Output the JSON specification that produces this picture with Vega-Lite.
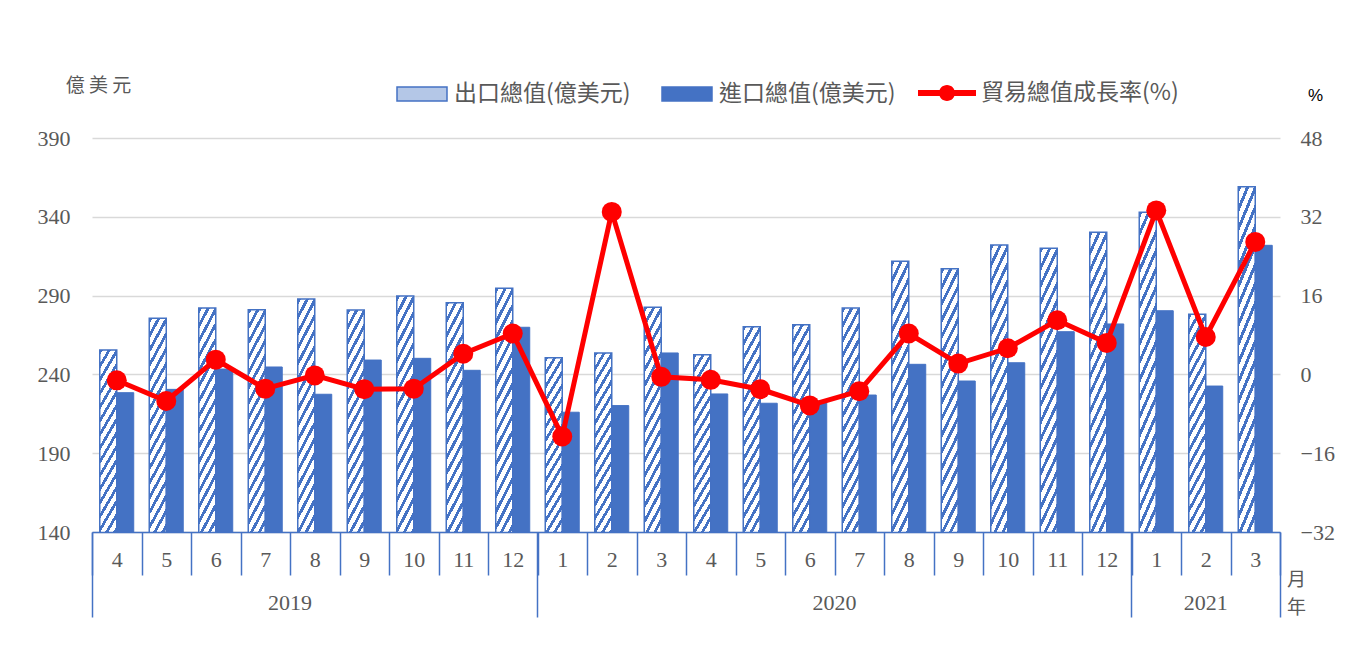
{
  "$schema": "https://vega.github.io/schema/vega-lite/v6.json",
  "width": 1188,
  "height": 394,
  "autosize": {"type": "none"},
  "padding": {"left": 92, "top": 138, "right": 88, "bottom": 136},
  "background": "#ffffff",
  "config": {"view": {"stroke": null}, "font": "Liberation Serif"},
  "datasets": {
    "bars": [
      {"m": "2019-4", "series": "出口總值(億美元)", "value": 255.5},
      {"m": "2019-4", "series": "進口總值(億美元)", "value": 228.4},
      {"m": "2019-5", "series": "出口總值(億美元)", "value": 275.6},
      {"m": "2019-5", "series": "進口總值(億美元)", "value": 230.5},
      {"m": "2019-6", "series": "出口總值(億美元)", "value": 282.1},
      {"m": "2019-6", "series": "進口總值(億美元)", "value": 243.4},
      {"m": "2019-7", "series": "出口總值(億美元)", "value": 281.0},
      {"m": "2019-7", "series": "進口總值(億美元)", "value": 244.7},
      {"m": "2019-8", "series": "出口總值(億美元)", "value": 287.8},
      {"m": "2019-8", "series": "進口總值(億美元)", "value": 227.4},
      {"m": "2019-9", "series": "出口總值(億美元)", "value": 280.9},
      {"m": "2019-9", "series": "進口總值(億美元)", "value": 249.1},
      {"m": "2019-10", "series": "出口總值(億美元)", "value": 289.7},
      {"m": "2019-10", "series": "進口總值(億美元)", "value": 250.2},
      {"m": "2019-11", "series": "出口總值(億美元)", "value": 285.5},
      {"m": "2019-11", "series": "進口總值(億美元)", "value": 242.6},
      {"m": "2019-12", "series": "出口總值(億美元)", "value": 294.6},
      {"m": "2019-12", "series": "進口總值(億美元)", "value": 269.9},
      {"m": "2020-1", "series": "出口總值(億美元)", "value": 250.6},
      {"m": "2020-1", "series": "進口總值(億美元)", "value": 216.0},
      {"m": "2020-2", "series": "出口總值(億美元)", "value": 253.6},
      {"m": "2020-2", "series": "進口總值(億美元)", "value": 220.2},
      {"m": "2020-3", "series": "出口總值(億美元)", "value": 282.6},
      {"m": "2020-3", "series": "進口總值(億美元)", "value": 253.6},
      {"m": "2020-4", "series": "出口總值(億美元)", "value": 252.5},
      {"m": "2020-4", "series": "進口總值(億美元)", "value": 227.6},
      {"m": "2020-5", "series": "出口總值(億美元)", "value": 270.3},
      {"m": "2020-5", "series": "進口總值(億美元)", "value": 221.7},
      {"m": "2020-6", "series": "出口總值(億美元)", "value": 271.5},
      {"m": "2020-6", "series": "進口總值(億美元)", "value": 223.0},
      {"m": "2020-7", "series": "出口總值(億美元)", "value": 282.1},
      {"m": "2020-7", "series": "進口總值(億美元)", "value": 226.9},
      {"m": "2020-8", "series": "出口總值(億美元)", "value": 311.8},
      {"m": "2020-8", "series": "進口總值(億美元)", "value": 246.4},
      {"m": "2020-9", "series": "出口總值(億美元)", "value": 307.1},
      {"m": "2020-9", "series": "進口總值(億美元)", "value": 235.8},
      {"m": "2020-10", "series": "出口總值(億美元)", "value": 322.1},
      {"m": "2020-10", "series": "進口總值(億美元)", "value": 247.4},
      {"m": "2020-11", "series": "出口總值(億美元)", "value": 320.0},
      {"m": "2020-11", "series": "進口總值(億美元)", "value": 267.1},
      {"m": "2020-12", "series": "出口總值(億美元)", "value": 330.2},
      {"m": "2020-12", "series": "進口總值(億美元)", "value": 272.0},
      {"m": "2021-1", "series": "出口總值(億美元)", "value": 342.9},
      {"m": "2021-1", "series": "進口總值(億美元)", "value": 280.4},
      {"m": "2021-2", "series": "出口總值(億美元)", "value": 278.1},
      {"m": "2021-2", "series": "進口總值(億美元)", "value": 232.6},
      {"m": "2021-3", "series": "出口總值(億美元)", "value": 359.1},
      {"m": "2021-3", "series": "進口總值(億美元)", "value": 321.9}
    ],
    "growth": [
      {"m": "2019-4", "series": "貿易總值成長率(%)", "g": -1.2},
      {"m": "2019-5", "series": "貿易總值成長率(%)", "g": -5.4},
      {"m": "2019-6", "series": "貿易總值成長率(%)", "g": 3.0},
      {"m": "2019-7", "series": "貿易總值成長率(%)", "g": -2.9},
      {"m": "2019-8", "series": "貿易總值成長率(%)", "g": -0.2},
      {"m": "2019-9", "series": "貿易總值成長率(%)", "g": -3.0},
      {"m": "2019-10", "series": "貿易總值成長率(%)", "g": -2.9},
      {"m": "2019-11", "series": "貿易總值成長率(%)", "g": 4.2},
      {"m": "2019-12", "series": "貿易總值成長率(%)", "g": 8.3},
      {"m": "2020-1", "series": "貿易總值成長率(%)", "g": -12.6},
      {"m": "2020-2", "series": "貿易總值成長率(%)", "g": 33.0},
      {"m": "2020-3", "series": "貿易總值成長率(%)", "g": -0.5},
      {"m": "2020-4", "series": "貿易總值成長率(%)", "g": -1.1},
      {"m": "2020-5", "series": "貿易總值成長率(%)", "g": -3.0},
      {"m": "2020-6", "series": "貿易總值成長率(%)", "g": -6.3},
      {"m": "2020-7", "series": "貿易總值成長率(%)", "g": -3.4},
      {"m": "2020-8", "series": "貿易總值成長率(%)", "g": 8.3},
      {"m": "2020-9", "series": "貿易總值成長率(%)", "g": 2.2},
      {"m": "2020-10", "series": "貿易總值成長率(%)", "g": 5.3},
      {"m": "2020-11", "series": "貿易總值成長率(%)", "g": 11.0},
      {"m": "2020-12", "series": "貿易總值成長率(%)", "g": 6.4},
      {"m": "2021-1", "series": "貿易總值成長率(%)", "g": 33.3},
      {"m": "2021-2", "series": "貿易總值成長率(%)", "g": 7.6},
      {"m": "2021-3", "series": "貿易總值成長率(%)", "g": 26.9}
    ]
  },
  "layer": [
    {
      "data": {"name": "bars"},
      "transform": [{"filter": "datum.series === '出口總值(億美元)'"}],
      "mark": {"type": "bar", "stroke": "#4472C4", "strokeWidth": 1.5, "clip": true,
        "fill": {"gradient": "linear", "x1": 0, "y1": 0, "x2": 0.078, "y2": 1.08, "stops": [
          {"offset": 0, "color": "#4472C4"}, {"offset": 0.0125, "color": "#4472C4"}, {"offset": 0.0125, "color": "#fff"}, {"offset": 0.03125, "color": "#fff"},
          {"offset": 0.03125, "color": "#4472C4"}, {"offset": 0.04375, "color": "#4472C4"}, {"offset": 0.04375, "color": "#fff"}, {"offset": 0.0625, "color": "#fff"},
          {"offset": 0.0625, "color": "#4472C4"}, {"offset": 0.075, "color": "#4472C4"}, {"offset": 0.075, "color": "#fff"}, {"offset": 0.09375, "color": "#fff"},
          {"offset": 0.09375, "color": "#4472C4"}, {"offset": 0.10625, "color": "#4472C4"}, {"offset": 0.10625, "color": "#fff"}, {"offset": 0.125, "color": "#fff"},
          {"offset": 0.125, "color": "#4472C4"}, {"offset": 0.1375, "color": "#4472C4"}, {"offset": 0.1375, "color": "#fff"}, {"offset": 0.15625, "color": "#fff"},
          {"offset": 0.15625, "color": "#4472C4"}, {"offset": 0.16875, "color": "#4472C4"}, {"offset": 0.16875, "color": "#fff"}, {"offset": 0.1875, "color": "#fff"},
          {"offset": 0.1875, "color": "#4472C4"}, {"offset": 0.2, "color": "#4472C4"}, {"offset": 0.2, "color": "#fff"}, {"offset": 0.21875, "color": "#fff"},
          {"offset": 0.21875, "color": "#4472C4"}, {"offset": 0.23125, "color": "#4472C4"}, {"offset": 0.23125, "color": "#fff"}, {"offset": 0.25, "color": "#fff"},
          {"offset": 0.25, "color": "#4472C4"}, {"offset": 0.2625, "color": "#4472C4"}, {"offset": 0.2625, "color": "#fff"}, {"offset": 0.28125, "color": "#fff"},
          {"offset": 0.28125, "color": "#4472C4"}, {"offset": 0.29375, "color": "#4472C4"}, {"offset": 0.29375, "color": "#fff"}, {"offset": 0.3125, "color": "#fff"},
          {"offset": 0.3125, "color": "#4472C4"}, {"offset": 0.325, "color": "#4472C4"}, {"offset": 0.325, "color": "#fff"}, {"offset": 0.34375, "color": "#fff"},
          {"offset": 0.34375, "color": "#4472C4"}, {"offset": 0.35625, "color": "#4472C4"}, {"offset": 0.35625, "color": "#fff"}, {"offset": 0.375, "color": "#fff"},
          {"offset": 0.375, "color": "#4472C4"}, {"offset": 0.3875, "color": "#4472C4"}, {"offset": 0.3875, "color": "#fff"}, {"offset": 0.40625, "color": "#fff"},
          {"offset": 0.40625, "color": "#4472C4"}, {"offset": 0.41875, "color": "#4472C4"}, {"offset": 0.41875, "color": "#fff"}, {"offset": 0.4375, "color": "#fff"},
          {"offset": 0.4375, "color": "#4472C4"}, {"offset": 0.45, "color": "#4472C4"}, {"offset": 0.45, "color": "#fff"}, {"offset": 0.46875, "color": "#fff"},
          {"offset": 0.46875, "color": "#4472C4"}, {"offset": 0.48125, "color": "#4472C4"}, {"offset": 0.48125, "color": "#fff"}, {"offset": 0.5, "color": "#fff"},
          {"offset": 0.5, "color": "#4472C4"}, {"offset": 0.5125, "color": "#4472C4"}, {"offset": 0.5125, "color": "#fff"}, {"offset": 0.53125, "color": "#fff"},
          {"offset": 0.53125, "color": "#4472C4"}, {"offset": 0.54375, "color": "#4472C4"}, {"offset": 0.54375, "color": "#fff"}, {"offset": 0.5625, "color": "#fff"},
          {"offset": 0.5625, "color": "#4472C4"}, {"offset": 0.575, "color": "#4472C4"}, {"offset": 0.575, "color": "#fff"}, {"offset": 0.59375, "color": "#fff"},
          {"offset": 0.59375, "color": "#4472C4"}, {"offset": 0.60625, "color": "#4472C4"}, {"offset": 0.60625, "color": "#fff"}, {"offset": 0.625, "color": "#fff"},
          {"offset": 0.625, "color": "#4472C4"}, {"offset": 0.6375, "color": "#4472C4"}, {"offset": 0.6375, "color": "#fff"}, {"offset": 0.65625, "color": "#fff"},
          {"offset": 0.65625, "color": "#4472C4"}, {"offset": 0.66875, "color": "#4472C4"}, {"offset": 0.66875, "color": "#fff"}, {"offset": 0.6875, "color": "#fff"},
          {"offset": 0.6875, "color": "#4472C4"}, {"offset": 0.7, "color": "#4472C4"}, {"offset": 0.7, "color": "#fff"}, {"offset": 0.71875, "color": "#fff"},
          {"offset": 0.71875, "color": "#4472C4"}, {"offset": 0.73125, "color": "#4472C4"}, {"offset": 0.73125, "color": "#fff"}, {"offset": 0.75, "color": "#fff"},
          {"offset": 0.75, "color": "#4472C4"}, {"offset": 0.7625, "color": "#4472C4"}, {"offset": 0.7625, "color": "#fff"}, {"offset": 0.78125, "color": "#fff"},
          {"offset": 0.78125, "color": "#4472C4"}, {"offset": 0.79375, "color": "#4472C4"}, {"offset": 0.79375, "color": "#fff"}, {"offset": 0.8125, "color": "#fff"},
          {"offset": 0.8125, "color": "#4472C4"}, {"offset": 0.825, "color": "#4472C4"}, {"offset": 0.825, "color": "#fff"}, {"offset": 0.84375, "color": "#fff"},
          {"offset": 0.84375, "color": "#4472C4"}, {"offset": 0.85625, "color": "#4472C4"}, {"offset": 0.85625, "color": "#fff"}, {"offset": 0.875, "color": "#fff"},
          {"offset": 0.875, "color": "#4472C4"}, {"offset": 0.8875, "color": "#4472C4"}, {"offset": 0.8875, "color": "#fff"}, {"offset": 0.90625, "color": "#fff"},
          {"offset": 0.90625, "color": "#4472C4"}, {"offset": 0.91875, "color": "#4472C4"}, {"offset": 0.91875, "color": "#fff"}, {"offset": 0.9375, "color": "#fff"},
          {"offset": 0.9375, "color": "#4472C4"}, {"offset": 0.95, "color": "#4472C4"}, {"offset": 0.95, "color": "#fff"}, {"offset": 0.96875, "color": "#fff"},
          {"offset": 0.96875, "color": "#4472C4"}, {"offset": 0.98125, "color": "#4472C4"}, {"offset": 0.98125, "color": "#fff"}, {"offset": 1, "color": "#fff"}
        ]}
      },
      "encoding": {
        "x": {
          "field": "m", "type": "ordinal",
          "scale": {"type": "band", "paddingInner": 0, "paddingOuter": 0,
            "domain": ["2019-4","2019-5","2019-6","2019-7","2019-8","2019-9","2019-10","2019-11","2019-12","2020-1","2020-2","2020-3","2020-4","2020-5","2020-6","2020-7","2020-8","2020-9","2020-10","2020-11","2020-12","2021-1","2021-2","2021-3"]},
          "axis": {
            "orient": "bottom", "title": null, "grid": false, "zindex": 1,
            "ticks": true, "tickBand": "extent", "tickColor": "#4472C4", "tickWidth": 1.5, "tickSize": 43,
            "domain": true, "domainColor": "#4472C4", "domainWidth": 1.5,
            "labelExpr": "split(datum.value, '-')[1]", "labelAngle": 0, "labelPadding": -26,
            "labelFont": "Liberation Serif", "labelFontSize": 22, "labelColor": "#595959"
          }
        },
        "xOffset": {
          "field": "series", "type": "nominal",
          "scale": {"domain": ["出口總值(億美元)", "進口總值(億美元)"], "paddingInner": 0, "paddingOuter": 0.456}
        },
        "y": {
          "field": "value", "type": "quantitative",
          "scale": {"domain": [140, 390], "nice": false, "zero": false},
          "axis": {
            "orient": "left", "values": [140, 190, 240, 290, 340, 390],
            "grid": true, "gridColor": "#D9D9D9", "gridWidth": 1.5,
            "domain": false, "ticks": false, "labelPadding": 22,
            "labelFont": "Liberation Serif", "labelFontSize": 22, "labelColor": "#595959",
            "title": "億 美 元", "titleAngle": 0, "titleX": 6, "titleY": -53,
            "titleAlign": "center", "titleBaseline": "middle",
            "titleFont": "Noto Sans CJK TC", "titleFontSize": 19, "titleFontWeight": "normal", "titleColor": "#595959"
          }
        }
      }
    },
    {
      "data": {"name": "bars"},
      "transform": [{"filter": "datum.series === '進口總值(億美元)'"}],
      "mark": {"type": "bar", "stroke": "#4472C4", "strokeWidth": 1, "clip": true},
      "encoding": {
        "x": {
          "field": "m", "type": "ordinal", "scale": {"type": "band"},
          "axis": {
            "orient": "bottom", "title": null, "grid": false, "zindex": 1,
            "values": ["2019-4", "2020-1", "2021-1"], "bandPosition": 0,
            "ticks": true, "tickColor": "#4472C4", "tickWidth": 1.5, "tickSize": 85,
            "domain": false, "labels": false
          }
        },
        "xOffset": {
          "field": "series", "type": "nominal",
          "scale": {"domain": ["出口總值(億美元)", "進口總值(億美元)"], "paddingInner": 0, "paddingOuter": 0.456}
        },
        "y": {
          "field": "value", "type": "quantitative",
          "scale": {"domain": [140, 390], "nice": false, "zero": false},
          "axis": null
        },
        "fill": {
          "field": "series", "type": "nominal",
          "scale": {"domain": ["出口總值(億美元)", "進口總值(億美元)"], "range": ["#B4C7E7", "#4472C4"]},
          "legend": {
            "orient": "none", "legendX": 304, "legendY": -70, "direction": "horizontal",
            "title": null, "padding": 0, "symbolType": "M-1,-0.28H1V0.28H-1Z", "symbolSize": 2500,
            "symbolStrokeColor": "#4472C4", "symbolStrokeWidth": 1.5,
            "labelOffset": 6, "columnPadding": 28,
            "labelFont": "Noto Sans CJK TC", "labelFontSize": 23, "labelColor": "#595959", "labelLimit": 400
          }
        }
      }
    },
    {
      "data": {"name": "growth"},
      "mark": {"type": "line", "color": "#FF0000", "strokeWidth": 5},
      "encoding": {
        "x": {
          "field": "m", "type": "ordinal", "scale": {"type": "band"},
          "axis": {
            "orient": "bottom", "values": ["2019-7", "2020-6"],
            "domain": false, "ticks": false, "grid": false,
            "labelExpr": "split(datum.value, '-')[0]", "labelAngle": 0, "labelPadding": 60, "labelOffset": 24.75,
            "labelFont": "Liberation Serif", "labelFontSize": 22, "labelColor": "#595959",
            "title": ["月", "年"], "titleX": 1204, "titleY": 38, "titleAngle": 0,
            "titleAlign": "center", "titleBaseline": "top",
            "titleFont": "Noto Sans CJK TC", "titleFontSize": 19, "titleLineHeight": 28,
            "titleColor": "#595959", "titleFontWeight": "normal"
          }
        },
        "y": {
          "field": "g", "type": "quantitative",
          "scale": {"domain": [-32, 48], "nice": false, "zero": false},
          "axis": {
            "orient": "right", "values": [-32, -16, 0, 16, 32, 48],
            "grid": false, "domain": false, "ticks": false, "labelPadding": 20,
            "labelFont": "Liberation Serif", "labelFontSize": 22, "labelColor": "#595959",
            "title": "%", "titleAngle": 0, "titleX": 35, "titleY": -43,
            "titleAlign": "center", "titleBaseline": "middle",
            "titleFont": "Liberation Sans", "titleFontSize": 17, "titleFontWeight": "normal", "titleColor": "#000000"
          }
        }
      }
    },
    {
      "data": {"name": "growth"},
      "mark": {"type": "point", "filled": true, "size": 400, "opacity": 1},
      "encoding": {
        "x": {
          "field": "m", "type": "ordinal", "scale": {"type": "band"},
          "axis": {
            "orient": "bottom", "title": null, "grid": false, "zindex": 1,
            "values": ["2021-3"], "bandPosition": 1,
            "ticks": true, "tickColor": "#4472C4", "tickWidth": 1.5, "tickSize": 85,
            "domain": false,
            "labelExpr": "split(datum.value, '-')[0]", "labelAngle": 0, "labelPadding": -25, "labelOffset": -49.5,
            "labelFont": "Liberation Serif", "labelFontSize": 22, "labelColor": "#595959"
          }
        },
        "y": {
          "field": "g", "type": "quantitative",
          "scale": {"domain": [-32, 48], "nice": false, "zero": false},
          "axis": null
        },
        "color": {
          "field": "series", "type": "nominal",
          "scale": {"domain": ["貿易總值成長率(%)"], "range": ["#FF0000"]},
          "legend": {
            "orient": "none", "legendX": 826, "legendY": -74, "direction": "horizontal",
            "title": null, "padding": 0,
            "symbolType": "M-1,-0.103H1V0.103H-1Z M-0.276,0A0.276,0.276 0 1,1 0.276,0A0.276,0.276 0 1,1 -0.276,0Z",
            "symbolSize": 3364, "symbolStrokeWidth": 0, "symbolOpacity": 1,
            "labelOffset": 5,
            "labelFont": "Noto Sans CJK TC", "labelFontSize": 23, "labelColor": "#595959", "labelLimit": 400
          }
        }
      }
    }
  ],
  "resolve": {"scale": {"y": "independent"}, "axis": {"x": "independent", "y": "independent"}}
}
